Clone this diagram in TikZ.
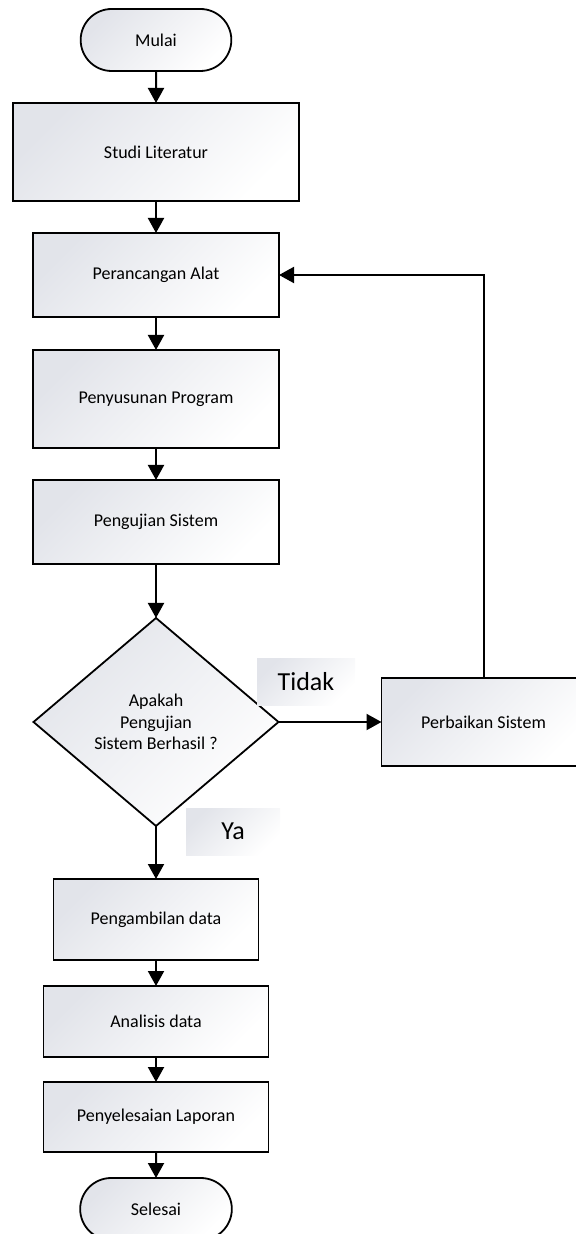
\documentclass[tikz,border=0pt]{standalone}
\usepackage{fontspec}
\setmainfont{Carlito}
\usetikzlibrary{positioning,shapes.geometric,shapes.misc,arrows.meta}
\definecolor{shadegray}{RGB}{226,228,234}
\tikzstyle{arrow} = [line width=1pt, -{Triangle[width=8pt,length=7.5pt]}]

\begin{document}
\begin{tikzpicture}[
    node distance=16pt,
    every node/.style={outer sep=0pt},
    shaded/.style={
        top color=shadegray,
        bottom color=white,
        shading angle=45
    },
    process/.style={
        rectangle,
        draw=black,
        line width=0.9pt,
        shaded,
        minimum width=123pt,
        inner sep=2pt,
        font=\fontsize{9pt}{11pt}\selectfont,
        text centered
    },
    terminal/.style={
        rounded rectangle,
        draw=black,
        line width=0.9pt,
        shaded,
        minimum width=82pt,
        minimum height=31pt,
        font=\fontsize{9pt}{11pt}\selectfont
    },
    decision/.style={
        diamond,
        draw=black,
        line width=0.9pt,
        shaded,
        minimum width=122.5pt,
        minimum height=104pt,
        inner sep=0pt,
        align=center,
        font=\fontsize{9pt}{10.8pt}\selectfont
    },
    answer/.style={
        shaded,
        minimum height=23.5pt,
        font=\fontsize{13pt}{15pt}\selectfont
    }
    ]
    \useasboundingbox (0,0) rectangle (288pt,-617pt);

    % main column
    \node[terminal] (mulai) at (78pt,-20pt) {Mulai};
    \node[process, below=of mulai, minimum width=143pt, minimum height=49pt] (studi) {Studi Literatur};
    \node[process, below=of studi, minimum height=42pt] (rancang) {Perancangan Alat};
    \node[process, below=16.5pt of rancang, minimum height=49pt] (program) {Penyusunan Program};
    \node[process, below=of program, minimum height=42pt] (uji) {Pengujian Sistem};

    % decision
    \node[decision, below=27pt of uji] (cek) {Apakah\\Pengujian\\Sistem Berhasil ?};
    \node[process, right=51.5pt of cek, minimum width=102pt, minimum height=44pt] (perbaikan) {Perbaikan Sistem};

    % lower column
    \node[process, below=26.5pt of cek, minimum width=102.5pt, minimum height=40.5pt] (ambil) {Pengambilan data};
    \node[process, below=13pt of ambil, minimum width=112.5pt, minimum height=35.5pt] (analisis) {Analisis data};
    \node[process, below=12.5pt of analisis, minimum width=112.5pt, minimum height=35pt] (laporan) {Penyelesaian Laporan};
    \node[terminal, below=13pt of laporan, minimum width=82.5pt] (selesai) {Selesai};

    % connectors
    \draw[arrow] (mulai) -- (studi);
    \draw[arrow] (studi) -- (rancang);
    \draw[arrow] (rancang) -- (program);
    \draw[arrow] (program) -- (uji);
    \draw[arrow] (uji) -- (cek);
    \draw[arrow] (cek.east) -- (perbaikan.west);
    \draw[arrow] (perbaikan.north) |- (rancang.east);
    \draw[arrow] (cek.south) -- (ambil.north);
    \draw[arrow] (ambil) -- (analisis);
    \draw[arrow] (analisis) -- (laporan);
    \draw[arrow] (laporan) -- (selesai);

    % answer labels
    \node[answer, minimum width=49pt] (tidak) at (153pt,-340.75pt) {Tidak};
    \node[answer, minimum width=47pt] (ya) at (116.5pt,-415.75pt) {Ya};
\end{tikzpicture}
\end{document}
